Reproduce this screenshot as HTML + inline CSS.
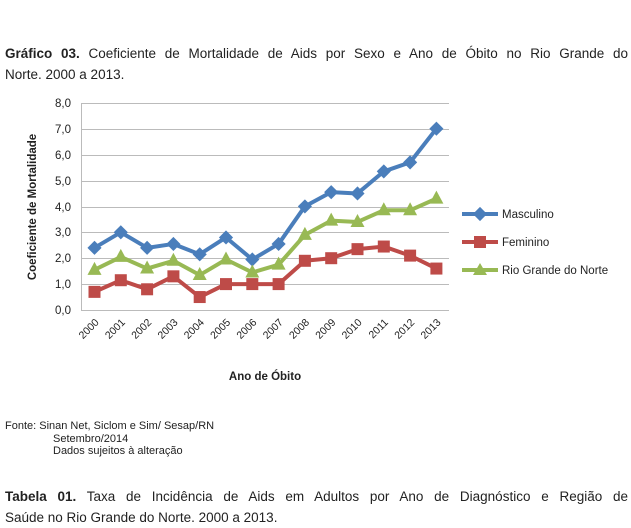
<!DOCTYPE html>
<html><head><meta charset="utf-8"><style>
body{margin:0;background:#fff;width:631px;height:525px;overflow:hidden;font-family:"Liberation Sans",sans-serif}
.t{position:absolute;left:5px;font-size:13.5px;color:#222;line-height:21px;width:623px}
.j{display:block;text-align:justify;text-align-last:justify;white-space:nowrap}
.s{position:absolute;font-size:11px;color:#222;line-height:12px}
</style></head><body>
<div class="t" style="top:43px"><span class="j"><b>Gráfico 03.</b> Coeficiente de Mortalidade de Aids por Sexo e Ano de Óbito no Rio Grande do</span>Norte. 2000 a 2013.</div>
<svg style="position:absolute;left:0;top:0" width="631" height="525" font-family="Liberation Sans,sans-serif">
<g stroke="#bbb" stroke-width="1">
<line x1="81" x2="449" y1="103.5" y2="103.5"/><line x1="81" x2="449" y1="129.5" y2="129.5"/><line x1="81" x2="449" y1="155.5" y2="155.5"/><line x1="81" x2="449" y1="181.5" y2="181.5"/><line x1="81" x2="449" y1="207.5" y2="207.5"/><line x1="81" x2="449" y1="232.5" y2="232.5"/><line x1="81" x2="449" y1="258.5" y2="258.5"/><line x1="81" x2="449" y1="284.5" y2="284.5"/><line x1="81" x2="449" y1="310.5" y2="310.5"/>
<line x1="81.5" x2="81.5" y1="103" y2="310"/>
</g>
<g font-size="11.5" fill="#222" text-anchor="end">
<text x="71" y="107">8,0</text><text x="71" y="133">7,0</text><text x="71" y="159">6,0</text><text x="71" y="185">5,0</text><text x="71" y="211">4,0</text><text x="71" y="236">3,0</text><text x="71" y="262">2,0</text><text x="71" y="288">1,0</text><text x="71" y="314">0,0</text>
</g>
<text transform="translate(36,207) rotate(-90)" font-size="11.5" font-weight="bold" text-anchor="middle" fill="#222">Coeficiente de Mortalidade</text>
<g id="xl" font-size="10.5" fill="#222" text-anchor="end"></g>
<text x="265" y="380" font-size="11.5" font-weight="bold" text-anchor="middle" fill="#222">Ano de Óbito</text>
<g id="series"></g>
<g font-size="11.5" fill="#222">
<line x1="462" x2="498" y1="214" y2="214" stroke="#4a7ebb" stroke-width="4"/><rect x="475" y="209" width="10" height="10" fill="#4a7ebb" transform="rotate(45 480 214)"/><text x="502" y="218">Masculino</text>
<line x1="462" x2="498" y1="242" y2="242" stroke="#be4b48" stroke-width="4"/><rect x="474" y="236" width="12" height="12" fill="#be4b48"/><text x="502" y="246">Feminino</text>
<line x1="462" x2="498" y1="270" y2="270" stroke="#98b954" stroke-width="4"/><polygon points="480,263 487,275 473,275" fill="#98b954"/><text x="502" y="274">Rio Grande do Norte</text>
</g>
</svg>
<div class="s" style="left:5px;top:420px">Fonte: Sinan Net, Siclom e Sim/ Sesap/RN</div>
<div class="s" style="left:53px;top:433px">Setembro/2014</div>
<div class="s" style="left:53px;top:445px">Dados sujeitos à alteração</div>
<div class="t" style="top:486px"><span class="j"><b>Tabela 01.</b> Taxa de Incidência de Aids em Adultos por Ano de Diagnóstico e Região de</span>Saúde no Rio Grande do Norte. 2000 a 2013.</div>
<script>
function X(i){return 94.5+i*26.3}function Y(v){return 310-v*25.9}
var d=[["#4a7ebb","d",[2.4,3.0,2.4,2.55,2.15,2.8,1.95,2.55,4.0,4.55,4.5,5.35,5.7,7.0]],
["#98b954","t",[1.55,2.05,1.6,1.9,1.35,1.95,1.45,1.75,2.9,3.45,3.4,3.85,3.85,4.3]],
["#be4b48","s",[0.7,1.15,0.8,1.3,0.5,1.0,1.0,1.0,1.9,2.0,2.35,2.45,2.1,1.6]]];
var g=document.getElementById("series"),h="";
d.forEach(function(s){var p=s[2].map(function(v,i){return X(i)+","+Y(v)}).join(" ");
h+='<polyline points="'+p+'" fill="none" stroke="'+s[0]+'" stroke-width="4" stroke-linejoin="round"/>';
s[2].forEach(function(v,i){var x=X(i),y=Y(v);
if(s[1]=="d")h+='<rect x="'+(x-5)+'" y="'+(y-5)+'" width="10" height="10" fill="'+s[0]+'" transform="rotate(45 '+x+' '+y+')"/>';
else if(s[1]=="s")h+='<rect x="'+(x-6)+'" y="'+(y-6)+'" width="12" height="12" fill="'+s[0]+'"/>';
else h+='<polygon points="'+x+','+(y-8)+' '+(x+7)+','+(y+5)+' '+(x-7)+','+(y+5)+'" fill="'+s[0]+'"/>';});});
g.innerHTML=h;
var xl="";for(var i=0;i<14;i++){var x=X(i)+5,y=323;xl+='<text transform="translate('+x+','+y+') rotate(-45)">'+(2000+i)+'</text>';}
document.getElementById("xl").innerHTML=xl;
</script>
</body></html>
